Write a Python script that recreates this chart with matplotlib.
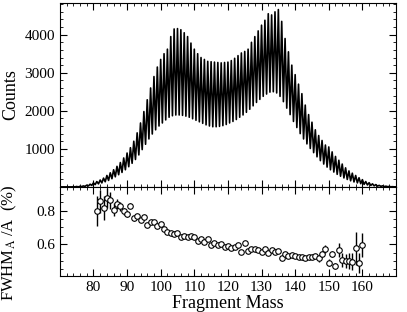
import numpy as np
import matplotlib
matplotlib.use("Agg")
import matplotlib.pyplot as plt
from matplotlib.ticker import MultipleLocator

plt.rcParams['font.family'] = ['Liberation Serif', 'DejaVu Serif']
plt.rcParams['mathtext.fontset'] = 'stix'

# mass spectrum: peak height at each integer mass, valley height at mass+0.5
mass = np.arange(70, 171)
peak = [0, 0, 0, 0, 5, 10, 15, 25, 45, 70,
        105, 140, 180, 230, 300, 370, 450, 540, 640, 760,
        890, 1030, 1200, 1420, 1680, 1980, 2290, 2600, 2900, 3150,
        3350, 3500, 3620, 3950, 4150, 4160, 4130, 4050, 3950, 3780,
        3620, 3500, 3400, 3350, 3300, 3290, 3280, 3270, 3260, 3270,
        3280, 3320, 3380, 3450, 3520, 3560, 3620, 3800, 3950, 4100,
        4250, 4380, 4550, 4520, 4600, 4660, 4350, 3900, 3550, 3200,
        2950, 2700, 2450, 2150, 1900, 1700, 1500, 1350, 1220, 1100,
        1050, 920, 800, 700, 600, 500, 420, 360, 300, 240,
        190, 140, 110, 80, 60, 40, 28, 18, 10, 5, 2]
valley = [0, 0, 0, 0, 0, 0, 8, 14, 25, 40,
          60, 80, 105, 135, 170, 215, 265, 320, 380, 450,
          530, 620, 720, 840, 980, 1120, 1260, 1390, 1500, 1600,
          1680, 1760, 1830, 1870, 1890, 1890, 1880, 1860, 1830, 1790,
          1750, 1710, 1670, 1630, 1600, 1580, 1580, 1590, 1610, 1640,
          1680, 1720, 1770, 1830, 1890, 1960, 2040, 2130, 2220, 2300,
          2380, 2440, 2490, 2500, 2470, 2380, 2240, 2070, 1900, 1720,
          1560, 1400, 1260, 1130, 1010, 900, 790, 690, 600, 520,
          450, 390, 330, 280, 235, 195, 160, 130, 105, 85,
          65, 50, 38, 28, 20, 14, 9, 6, 3, 1, 0]

# resolution FWHM_A/A (%) vs mass
res_mass = np.arange(81, 161)
res_val = [0.800, 0.856, 0.816, 0.876, 0.862, 0.806, 0.842, 0.826, 0.796, 0.780,
           0.830, 0.754, 0.770, 0.742, 0.762, 0.712, 0.730, 0.730, 0.710, 0.720,
           0.690, 0.676, 0.666, 0.662, 0.666, 0.642, 0.650, 0.642, 0.652, 0.646,
           0.620, 0.630, 0.616, 0.630, 0.596, 0.610, 0.596, 0.600, 0.586, 0.590,
           0.580, 0.586, 0.596, 0.556, 0.606, 0.560, 0.572, 0.570, 0.566, 0.556,
           0.572, 0.550, 0.566, 0.556, 0.562, 0.516, 0.542, 0.530, 0.536, 0.530,
           0.526, 0.522, 0.516, 0.526, 0.522, 0.530, 0.516, 0.542, 0.570, 0.490,
           0.542, 0.470, 0.566, 0.506, 0.500, 0.500, 0.496, 0.576, 0.490, 0.596]
res_err = [0.090, 0.070, 0.070, 0.060, 0.050, 0.040, 0.030, 0.025, 0.020, 0.020,
           0.015, 0.015, 0.012, 0.012, 0.012, 0.010, 0.010, 0.010, 0.008, 0.008,
           0.006, 0.006, 0.005, 0.005, 0.005, 0.005, 0.005, 0.005, 0.005, 0.005,
           0.005, 0.005, 0.005, 0.005, 0.005, 0.005, 0.005, 0.005, 0.005, 0.005,
           0.005, 0.005, 0.005, 0.005, 0.005, 0.005, 0.005, 0.005, 0.005, 0.005,
           0.005, 0.005, 0.005, 0.005, 0.005, 0.006, 0.006, 0.006, 0.006, 0.006,
           0.007, 0.008, 0.008, 0.010, 0.010, 0.012, 0.020, 0.020, 0.025, 0.020,
           0.020, 0.020, 0.040, 0.040, 0.040, 0.050, 0.050, 0.100, 0.060, 0.070]

# interleave peaks and valleys into one line
x = np.empty(2 * len(mass))
y = np.empty(2 * len(mass))
x[0::2] = mass
x[1::2] = mass + 0.5
y[0::2] = peak
y[1::2] = valley

fig = plt.figure(figsize=(4.07, 3.12), dpi=100)
ax0 = fig.add_axes([0.147, 0.401, 0.826, 0.589])
ax1 = fig.add_axes([0.147, 0.115, 0.826, 0.286], sharex=ax0)

ax0.plot(x, y, color='black', lw=1.2)
ax0.set_xlim(70, 170)
ax0.set_ylim(0, 4830)
ax0.set_yticks([1000, 2000, 3000, 4000])
ax0.yaxis.set_minor_locator(MultipleLocator(200))
ax0.set_ylabel('Counts', fontsize=13)
ax0.tick_params(labelbottom=False)

ax1.errorbar(res_mass, res_val, yerr=res_err, fmt='o', color='black', ms=4,
             mfc='white', mec='black', mew=0.8, elinewidth=1.0, capsize=0)
ax1.set_ylim(0.41, 0.942)
ax1.set_yticks([0.6, 0.8])
ax1.yaxis.set_minor_locator(MultipleLocator(0.05))
ax1.set_xticks(np.arange(80, 161, 10))
ax1.xaxis.set_minor_locator(MultipleLocator(2))
ax1.set_xlabel('Fragment Mass', fontsize=13, labelpad=1)
ax1.set_ylabel(r'FWHM$_{\mathrm{A}}$ /A  (%)', fontsize=12)

for ax in (ax0, ax1):
    ax.tick_params(which='both', direction='in', top=True, right=True, labelsize=11)
    ax.tick_params(which='major', length=5, width=0.8)
    ax.tick_params(which='minor', length=2.5, width=0.6)
ax0.yaxis.set_label_coords(-0.12, 0.5)
ax1.yaxis.set_label_coords(-0.12, 0.37)

fig.savefig('out.png', dpi=100)
